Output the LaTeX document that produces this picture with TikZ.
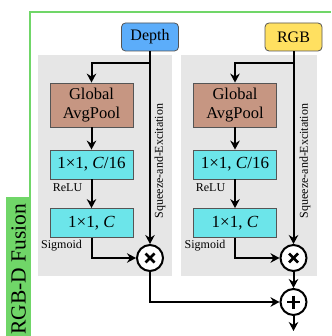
\documentclass[tikz,border=0pt]{standalone}
\usepackage{fontspec}
\setmainfont{Liberation Serif}
\usetikzlibrary{arrows.meta, positioning}
\definecolor{depthblue}{RGB}{92,173,250}
\definecolor{rgbyellow}{RGB}{255,224,96}
\definecolor{poolbrown}{RGB}{198,150,130}
\definecolor{convcyan}{RGB}{108,229,234}
\definecolor{panelgray}{RGB}{230,230,230}
\definecolor{fusegreen}{RGB}{112,214,104}
\definecolor{boxgray}{RGB}{85,85,85}
\tikzset{
  inputbox/.style={draw=boxgray, thick, rounded corners=4pt, minimum width=57pt, minimum height=28pt,
                   inner sep=0pt, font=\fontsize{16}{18}\selectfont},
  poolbox/.style={draw=boxgray, thick, fill=poolbrown, minimum width=83pt, minimum height=44pt,
                  align=center, inner sep=0pt, font=\fontsize{16.5}{19}\selectfont},
  convbox/.style={draw=boxgray, thick, fill=convcyan, minimum width=83pt, minimum height=29pt,
                  inner sep=0pt, font=\fontsize{17}{18}\selectfont},
  panel/.style={fill=panelgray},
  opnode/.style={circle, draw=black, line width=2pt, fill=white, minimum size=26pt, inner sep=0pt},
  mulop/.style={opnode, path picture={
      \draw[line width=2.6pt] ([shift={(-4.5pt,-4.5pt)}]path picture bounding box.center) -- ([shift={(4.5pt,4.5pt)}]path picture bounding box.center);
      \draw[line width=2.6pt] ([shift={(-4.5pt,4.5pt)}]path picture bounding box.center) -- ([shift={(4.5pt,-4.5pt)}]path picture bounding box.center);}},
  addop/.style={opnode, path picture={
      \draw[line width=2.6pt] ([shift={(-6.5pt,0pt)}]path picture bounding box.center) -- ([shift={(6.5pt,0pt)}]path picture bounding box.center);
      \draw[line width=2.6pt] ([shift={(0pt,6.5pt)}]path picture bounding box.center) -- ([shift={(0pt,-6.5pt)}]path picture bounding box.center);}},
  flow/.style={-{Stealth[length=9pt,width=9.5pt]}, line width=2pt},
  actlabel/.style={font=\fontsize{12}{14}\selectfont, inner sep=0pt},
  selabel/.style={rotate=90, font=\fontsize{12}{14}\selectfont, inner sep=0pt},
}

\begin{document}
\begin{tikzpicture}[x=1pt, y=-1pt]
\useasboundingbox (0,0) rectangle (331,336);

\draw[fusegreen, line width=2.2pt] (30,197) -- (30,12) -- (331,12);
\fill[fusegreen] (6,197) rectangle (31,336);
\node[rotate=90, font=\fontsize{21.5}{24}\selectfont, inner sep=0pt] (fusion) at (18.5,269) {RGB-D Fusion};

\fill[panel] (38,55) rectangle (172,276);
\fill[panel] (181,55) rectangle (317,276);

\node[inputbox, fill=depthblue] (depth) at (150,37) {Depth};
\node[inputbox, fill=rgbyellow] (rgb) at (293.5,37) {RGB};

\node[poolbox] (poolL) at (91.5,105) {Global\\AvgPool};
\node[convbox] (c16L) at (91.5,164.5) {1×1, \textit{C}/16};
\node[convbox] (cL) at (91.5,223) {1×1, \textit{C}};
\node[mulop] (mulL) at (150,258) {};

\node[poolbox] (poolR) at (235,105) {Global\\AvgPool};
\node[convbox] (c16R) at (235,164.5) {1×1, \textit{C}/16};
\node[convbox] (cR) at (235,223) {1×1, \textit{C}};
\node[mulop] (mulR) at (293.5,258) {};
\node[addop] (addR) at (293.5,302) {};

\node[actlabel] (reluL) at (67.5,188) {ReLU};
\node[actlabel] (sigL) at (61.5,246) {Sigmoid};
\node[actlabel] (reluR) at (210.5,188) {ReLU};
\node[actlabel] (sigR) at (205,246) {Sigmoid};
\node[selabel] (seL) at (160,161) {Squeeze-and-Excitation};
\node[selabel] (seR) at (305,161) {Squeeze-and-Excitation};

\coordinate (splitL) at (150,63);
\coordinate (splitR) at (293.5,63);
\coordinate (out) at (293.5,331);

\draw[flow] (depth.south) -- (mulL.north);
\draw[flow] (splitL) -| (poolL.north);
\draw[flow] (poolL.south) -- (c16L.north);
\draw[flow] (c16L.south) -- (cL.north);
\draw[flow] (cL.south) |- (mulL.west);
\draw[flow] (mulL.south) |- (addR.west);

\draw[flow] (rgb.south) -- (mulR.north);
\draw[flow] (splitR) -| (poolR.north);
\draw[flow] (poolR.south) -- (c16R.north);
\draw[flow] (c16R.south) -- (cR.north);
\draw[flow] (cR.south) |- (mulR.west);
\draw[flow] (mulR.south) -- (addR.north);
\draw[flow] (addR.south) -- (out);
\end{tikzpicture}
\end{document}
